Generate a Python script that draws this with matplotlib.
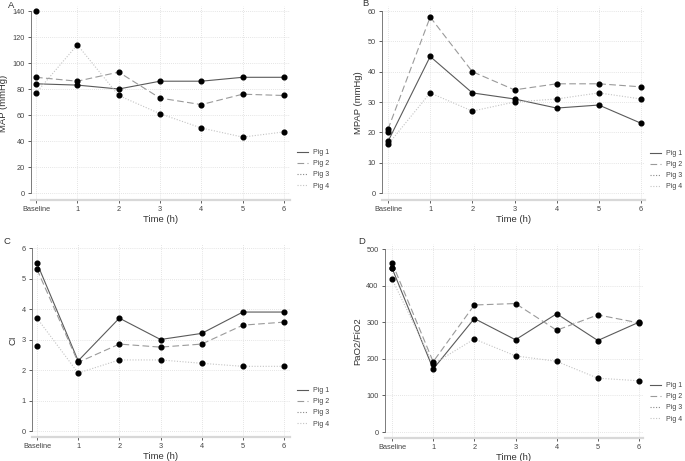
import numpy as np
import matplotlib

matplotlib.use("Agg")
import matplotlib.pyplot as plt

plt.rcParams["font.family"] = ["Liberation Sans", "DejaVu Sans"]

nan = np.nan
time_labels = ["Baseline", "1", "2", "3", "4", "5", "6"]
pigs = ["Pig 1", "Pig 2", "Pig 3", "Pig 4"]

map_pig1 = [84, 83, 80, 86, 86, 89, 89]
map_pig2 = [89, 86, 93, 73, 68, 76, 75]
map_pig3 = [140, nan, nan, nan, nan, nan, nan]
map_pig4 = [77, 114, 75, 61, 50, 43, 47]

mpap_pig1 = [17, 45, 33, 31, 28, 29, 23]
mpap_pig2 = [21, 58, 40, 34, 36, 36, 35]
mpap_pig3 = [20, nan, nan, nan, nan, nan, nan]
mpap_pig4 = [16, 33, 27, 30, 31, 33, 31]

ci_pig1 = [5.5, 2.3, 3.7, 3.0, 3.2, 3.9, 3.9]
ci_pig2 = [5.3, 2.25, 2.85, 2.75, 2.85, 3.47, 3.57]
ci_pig3 = [2.8, nan, nan, nan, nan, nan, nan]
ci_pig4 = [3.7, 1.9, 2.33, 2.33, 2.22, 2.12, 2.12]

pf_pig1 = [448, 172, 310, 252, 323, 250, 300]
pf_pig2 = [463, 192, 347, 351, 278, 320, 298]
pf_pig3 = [448, nan, nan, nan, nan, nan, nan]
pf_pig4 = [418, 186, 254, 208, 193, 147, 140]

styles = [
    dict(color="#5a5a5a", linestyle="-", lw=0.8),
    dict(color="#9a9a9a", linestyle=(0, (6, 3)), lw=0.8),
    dict(color="#8a8a8a", linestyle=(0, (1, 1.5)), lw=0.8),
    dict(color="#c4c4c4", linestyle=(0, (1, 1.5)), lw=0.8),
]

W, H = 685, 461


def panel(letter, series, ylabel, yticks, box, x0, x6, y0, ytop, letter_xy, leg_xy):
    # box: (left, top, right, bottom) in pixels; x0/x6 pixel of Baseline/6,
    # y0/ytop pixel of 0 / top tick
    L, T, R, B = box
    ax = fig.add_axes([L / W, 1 - B / H, (R - L) / W, (B - T) / H])
    u = 6 / (x6 - x0)
    ax.set_xlim(-(x0 - L) * u, 6 + (R - x6) * u)
    v = yticks[-1] / (y0 - ytop)
    ax.set_ylim(-(B - y0) * v, yticks[-1] + (ytop - T) * v)

    x = np.arange(len(time_labels))
    handles = []
    for vals, st, name in zip(series, styles, pigs):
        (h,) = ax.plot(x, vals, label=name, **st)
        handles.append(h)
        ax.plot(x, vals, "o", color="black", ms=3.4, zorder=3)

    ax.set_xticks(x, time_labels)
    ax.set_yticks(yticks)
    ax.grid(True, color="#dcdcdc", linestyle=(0, (1, 1.5)), lw=0.6)
    ax.set_axisbelow(True)
    ax.tick_params(labelsize=5.3, colors="#444444", length=2.5, width=0.6, pad=2)
    for s in ("top", "right"):
        ax.spines[s].set_visible(False)
    ax.spines["left"].set_bounds(yticks[0], yticks[-1])
    ax.spines["left"].set_color("#666666")
    ax.spines["left"].set_linewidth(0.6)
    ax.spines["bottom"].set_color("#d8d8d8")
    ax.spines["bottom"].set_linewidth(1.6)
    ax.set_xlabel("Time (h)", fontsize=6.8, color="#333333", labelpad=1)
    ax.set_ylabel(ylabel, fontsize=6.8, color="#333333", labelpad=3)

    fig.text(letter_xy[0] / W, 1 - letter_xy[1] / H, letter, fontsize=6.8,
             color="#333333", ha="left", va="center")
    ax.legend(handles=handles, loc="upper left", frameon=False, fontsize=5.0,
              handlelength=1.6, handletextpad=0.65, labelspacing=0.6,
              borderpad=0, borderaxespad=0,
              bbox_to_anchor=(leg_xy[0] / W, 1 - leg_xy[1] / H),
              bbox_transform=fig.transFigure, labelcolor="#444444")
    return ax


fig = plt.figure(figsize=(W / 100, H / 100), dpi=100)

panel("A", [map_pig1, map_pig2, map_pig3, map_pig4], "MAP (mmHg)",
      [0, 20, 40, 60, 80, 100, 120, 140],
      (31, 6, 290, 200), 36, 284, 193, 11, (8, 5), (297, 149))
panel("B", [mpap_pig1, mpap_pig2, mpap_pig3, mpap_pig4], "MPAP (mmHg)",
      [0, 10, 20, 30, 40, 50, 60],
      (382, 6, 645, 200), 388, 641, 193, 11, (362, 3), (650, 150))
panel("C", [ci_pig1, ci_pig2, ci_pig3, ci_pig4], "CI",
      [0, 1, 2, 3, 4, 5, 6],
      (32, 244, 290, 437), 37, 284, 431, 248, (3, 241), (297, 387))
panel("D", [pf_pig1, pf_pig2, pf_pig3, pf_pig4], "PaO2/FiO2",
      [0, 100, 200, 300, 400, 500],
      (385, 244, 643, 438), 392, 639, 432, 249, (358, 241), (650, 382))

fig.savefig("out.png", dpi=100)
